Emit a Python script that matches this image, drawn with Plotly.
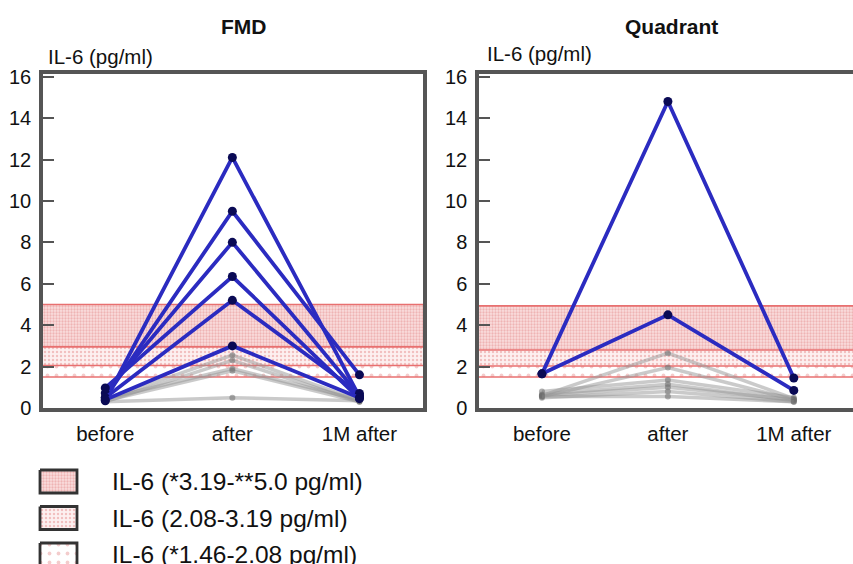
import plotly.graph_objects as go

# ---------------- data ----------------
categories = ["before", "after", "1M after"]

fmd_blue_before = [0.35, 0.50, 0.72, 0.97, 0.50, 0.40]
fmd_blue_after = [12.1, 9.5, 8.0, 6.35, 5.2, 3.0]
fmd_blue_1m = [0.55, 1.6, 0.6, 0.45, 0.7, 0.5]

fmd_gray_before = [0.40, 0.30, 0.45, 0.35, 0.30]
fmd_gray_after = [2.55, 2.30, 1.90, 1.80, 0.50]
fmd_gray_1m = [0.35, 0.30, 0.40, 0.30, 0.35]

quad_blue_before = [1.65, 1.65]
quad_blue_after = [14.8, 4.5]
quad_blue_1m = [1.45, 0.85]

quad_gray_before = [0.60, 0.55, 0.80, 0.65, 0.60, 0.50, 0.55]
quad_gray_after = [2.65, 1.95, 1.35, 1.15, 1.00, 0.80, 0.55]
quad_gray_1m = [0.45, 0.40, 0.50, 0.35, 0.40, 0.30, 0.30]

fmd_band_edges = [1.50, 2.05, 2.95, 5.00]
quad_band_edges = [1.50, 2.03, 2.80, 4.93]

legend_labels = [
    "IL-6 (*3.19-**5.0 pg/ml)",
    "IL-6 (2.08-3.19 pg/ml)",
    "IL-6 (*1.46-2.08 pg/ml)",
]
y_ticks = [0, 2, 4, 6, 8, 10, 12, 14, 16]

# ---------------- styles ----------------
W, H = 853, 564
FONT = "Liberation Sans, Arial, sans-serif"
BLUE = "#2b2bc0"
NAVY = "#0a0a55"
GRAY = "rgba(150,150,150,0.5)"
GRAY_M = "rgba(110,110,110,0.55)"
EDGE = "#e87070"
AXC = "#555555"

# patterns for bands: lowest -> highest
patterns = [
    dict(shape=".", fgcolor="#e89a9a", bgcolor="#ffffff", size=9, solidity=0.14),
    dict(shape=".", fgcolor="#e59090", bgcolor="#fdf0f0", size=4, solidity=0.3),
    dict(shape=".", fgcolor="#e48a8a", bgcolor="#f9dede", size=3, solidity=0.45),
]

x_ranges = {"x": [-0.49, 2.5], "x2": [-0.5, 2.47]}
y_range = [0, 16.13]

fig = go.Figure()


def add_bands(xa, ya, edges, xr):
    for i in range(3):
        lo, hi = edges[i], edges[i + 1]
        fig.add_trace(go.Scatter(
            x=[xr[0], xr[1], xr[1], xr[0], xr[0]],
            y=[lo, lo, hi, hi, lo],
            fill="toself", mode="none", fillcolor="rgba(0,0,0,0)",
            fillpattern=patterns[i], xaxis=xa, yaxis=ya,
            showlegend=False, hoverinfo="skip"))
    for e in edges:
        fig.add_trace(go.Scatter(
            x=[xr[0], xr[1]], y=[e, e], mode="lines",
            line=dict(color=EDGE, width=1.6), xaxis=xa, yaxis=ya,
            showlegend=False, hoverinfo="skip"))


def add_lines(xa, ya, b, a, m, color, width, mcolor, msize):
    for yb, ya_, ym in zip(b, a, m):
        fig.add_trace(go.Scatter(
            x=[0, 1, 2], y=[yb, ya_, ym], mode="lines+markers",
            line=dict(color=color, width=width),
            marker=dict(color=mcolor, size=msize),
            xaxis=xa, yaxis=ya, showlegend=False))


add_bands("x", "y", fmd_band_edges, x_ranges["x"])
add_lines("x", "y", fmd_gray_before, fmd_gray_after, fmd_gray_1m, GRAY, 3.5, GRAY_M, 6)
add_lines("x", "y", fmd_blue_before, fmd_blue_after, fmd_blue_1m, BLUE, 3.8, NAVY, 9)

add_bands("x2", "y2", quad_band_edges, x_ranges["x2"])
add_lines("x2", "y2", quad_gray_before, quad_gray_after, quad_gray_1m, GRAY, 3.5, GRAY_M, 6)
add_lines("x2", "y2", quad_blue_before, quad_blue_after, quad_blue_1m, BLUE, 3.8, NAVY, 9)

# legend keys (drawn in a pixel-space overlay axis)
key_x0, key_x1 = 40, 77
key_top0, key_h, key_step = 470, 23, 36.5
for i in range(3):
    t = key_top0 + i * key_step
    fig.add_trace(go.Scatter(
        x=[key_x0, key_x1, key_x1, key_x0, key_x0],
        y=[t, t, t + key_h, t + key_h, t],
        fill="toself", mode="lines", fillcolor="rgba(0,0,0,0)",
        fillpattern=patterns[2 - i],
        line=dict(color="#333333", width=2.8),
        xaxis="x3", yaxis="y3", showlegend=False, hoverinfo="skip"))

ydom = [(H - 408) / H, (H - 74) / H]
common_x = dict(tickmode="array", tickvals=[0, 1, 2], ticktext=categories,
                ticks="", showline=True, mirror=True, linecolor=AXC, linewidth=3.5,
                showgrid=False, zeroline=False, ticklabelstandoff=5,
                tickfont=dict(family=FONT, size=20.5, color="#111"), fixedrange=True)
common_y = dict(range=y_range, tickmode="array", tickvals=y_ticks,
                ticks="inside", ticklen=11, tickwidth=2, tickcolor=AXC,
                showline=True, mirror=True, linecolor=AXC, linewidth=3.5,
                showgrid=False, zeroline=False, ticklabelstandoff=4,
                tickfont=dict(family=FONT, size=20, color="#111"), fixedrange=True)

fig.update_layout(
    width=W, height=H,
    margin=dict(l=0, r=0, t=0, b=0, autoexpand=False),
    paper_bgcolor="white", plot_bgcolor="rgba(0,0,0,0)",
    showlegend=False,
    xaxis=dict(domain=[43 / W, 423 / W], range=x_ranges["x"], anchor="y", **common_x),
    yaxis=dict(domain=ydom, anchor="x", **common_y),
    xaxis2=dict(domain=[479 / W, 1.0], range=x_ranges["x2"], anchor="y2", **common_x),
    yaxis2=dict(domain=ydom, anchor="x2", **common_y),
    xaxis3=dict(domain=[0, 1], range=[0, W], visible=False, anchor="y3", fixedrange=True),
    yaxis3=dict(domain=[0, 1], range=[H, 0], visible=False, anchor="x3", fixedrange=True),
)

ann = []
ann.append(dict(text="<b>FMD</b>", x=244 / W, y=1 - 27 / H, xref="paper", yref="paper",
                xanchor="center", yanchor="middle",
                showarrow=False, font=dict(family=FONT, size=21, color="#111")))
ann.append(dict(text="<b>Quadrant</b>", x=671 / W, y=1 - 26 / H, xref="paper", yref="paper",
                xanchor="center", yanchor="middle",
                showarrow=False, font=dict(family=FONT, size=21, color="#111")))
for xpix, ypix in [(46, 56), (485, 54)]:
    ann.append(dict(text="IL-6 (pg/ml)", x=xpix / W, y=1 - ypix / H, xref="paper", yref="paper",
                    xanchor="left", yanchor="middle", showarrow=False,
                    font=dict(family=FONT, size=20.5, color="#111")))
for i, lab in enumerate(legend_labels):
    yc = key_top0 + i * key_step + key_h / 2
    ann.append(dict(text=lab, x=110 / W, y=1 - yc / H, xref="paper", yref="paper",
                    xanchor="left", yanchor="middle", showarrow=False,
                    font=dict(family=FONT, size=24.5, color="#111")))
fig.update_layout(annotations=ann)

fig.write_html(
    "out.html",
    config={"displayModeBar": False},
    post_script="document.body.style.margin='0';document.body.style.overflow='hidden';",
)
